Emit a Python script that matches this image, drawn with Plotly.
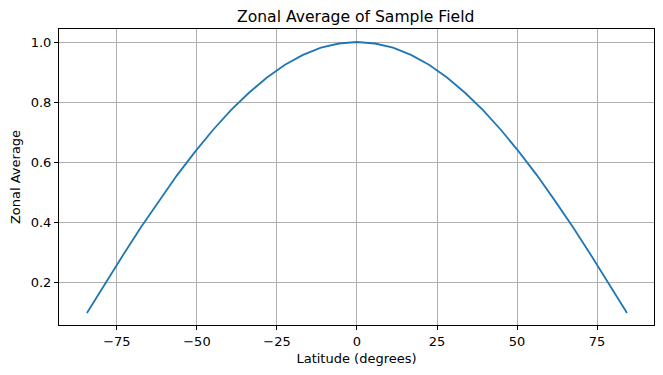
import plotly.graph_objects as go

latitudes = [-84.375, -78.75, -73.125, -67.5, -61.875, -56.25, -50.625, -45.0,
             -39.375, -33.75, -28.125, -22.5, -16.875, -11.25, -5.625, 0.0,
             5.625, 11.25, 16.875, 22.5, 28.125, 33.75, 39.375, 45.0,
             50.625, 56.25, 61.875, 67.5, 73.125, 78.75, 84.375]
zonal_avg = [0.098, 0.195, 0.290, 0.383, 0.471, 0.556, 0.634, 0.707,
             0.773, 0.831, 0.882, 0.924, 0.957, 0.981, 0.995, 1.000,
             0.995, 0.981, 0.957, 0.924, 0.882, 0.831, 0.773, 0.707,
             0.634, 0.556, 0.471, 0.383, 0.290, 0.195, 0.098]
x_ticks = [-75, -50, -25, 0, 25, 50, 75]
y_ticks = [0.2, 0.4, 0.6, 0.8, 1.0]

font = "DejaVu Sans"
fig = go.Figure()
fig.add_trace(go.Scatter(x=latitudes, y=zonal_avg, mode="lines",
                         line=dict(color="#1f77b4", width=1.8), showlegend=False))

axis_common = dict(showgrid=True, gridcolor="#b0b0b0", gridwidth=1,
                   showline=True, linecolor="black", linewidth=1, mirror=True,
                   ticks="outside", ticklen=4, tickwidth=1, tickcolor="black",
                   zeroline=False, automargin=False,
                   tickfont=dict(family=font, size=13, color="black"))

fig.update_layout(
    width=663, height=375,
    margin=dict(l=59, r=9, t=29, b=50),
    paper_bgcolor="white", plot_bgcolor="white",
    title=dict(text="Zonal Average of Sample Field", x=0.5365, xanchor="center",
               y=0.955, yanchor="middle",
               font=dict(family=font, size=15.6, color="black")),
    xaxis=dict(range=[-93.1, 92.8], tickvals=x_ticks,
               title=dict(text="Latitude (degrees)", standoff=6,
                          font=dict(family=font, size=13, color="black")),
               **axis_common),
    yaxis=dict(range=[0.0577, 1.0433], tickvals=y_ticks, tickformat=".1f",
               title=dict(text="Zonal Average", standoff=7,
                          font=dict(family=font, size=13, color="black")),
               **axis_common),
)
fig.write_html("out.html", config={"displayModeBar": False},
               post_script="document.body.style.margin='0';document.body.style.overflow='hidden';")
